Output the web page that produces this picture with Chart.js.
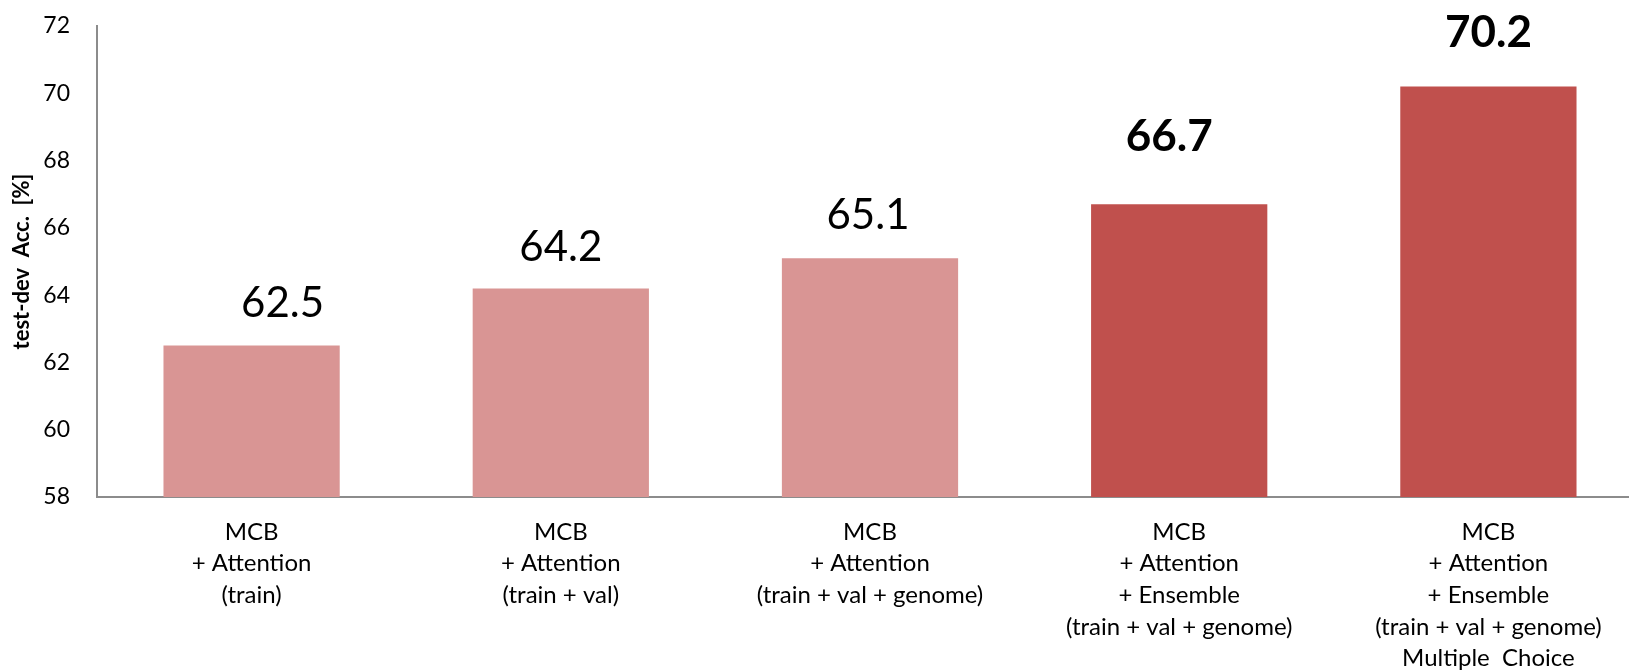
<!DOCTYPE html>
<html>
<head>
<meta charset="utf-8">
<script src="https://cdn.jsdelivr.net/npm/chart.js@4"></script>
<style>
  html, body { margin: 0; padding: 0; background: #ffffff; overflow: hidden; }
  #wrap { width: 1660px; height: 671px; }
</style>
</head>
<body>
<div id="wrap"><canvas id="chart" width="1660" height="671"></canvas></div>
<script>
// Model variants (multi-line category labels)
const categories = [
  ["MCB", "+ Attention", "(train)"],
  ["MCB", "+ Attention", "(train + val)"],
  ["MCB", "+ Attention", "(train + val + genome)"],
  ["MCB", "+ Attention", "+ Ensemble", "(train + val + genome)"],
  ["MCB", "+ Attention", "+ Ensemble", "(train + val + genome)", "Multiple  Choice"]
];
// test-dev accuracy in percent
const accuracy = [62.5, 64.2, 65.1, 66.7, 70.2];
// Ensemble results are highlighted
const highlighted = [false, false, false, true, true];
const yTicks = [58, 60, 62, 64, 66, 68, 70, 72];

// value label placement relative to each bar top, in pixels
const labelLift = [42, 41, 43, 67, 54];
const labelShift = [31, 0, -2, -10, 0];

const FONT = "Lato, 'Open Sans', sans-serif";

const valueLabels = {
  id: 'valueLabels',
  afterDatasetsDraw(chart) {
    const ctx = chart.ctx;
    const meta = chart.getDatasetMeta(0);
    const y = chart.scales.y;
    ctx.save();
    ctx.fillStyle = '#000000';
    ctx.textAlign = 'center';
    ctx.textBaseline = 'middle';
    meta.data.forEach((bar, i) => {
      ctx.font = (highlighted[i] ? 'bold 44px ' : '42px ') + FONT;
      const top = y.getPixelForValue(accuracy[i]);
      ctx.fillText(accuracy[i].toFixed(1), bar.x + labelShift[i], top - labelLift[i]);
    });
    ctx.restore();
  }
};

new Chart(document.getElementById('chart'), {
  type: 'bar',
  data: {
    labels: categories,
    datasets: [{
      data: accuracy,
      backgroundColor: highlighted.map(h => h ? '#C0504D' : '#D99594'),
      borderWidth: 0,
      barPercentage: 1.0,
      categoryPercentage: 0.57
    }]
  },
  options: {
    responsive: false,
    animation: false,
    events: [],
    layout: { padding: { top: 26, right: 17, left: 0, bottom: 0 } },
    plugins: { legend: { display: false }, tooltip: { enabled: false } },
    scales: {
      x: {
        grid: { display: false, drawTicks: false },
        border: { display: true, color: '#8c8c8c', width: 2 },
        ticks: {
          color: '#000000',
          font: { family: FONT, size: 24, lineHeight: 1.32 },
          padding: 19,
          maxRotation: 0,
          autoSkip: false
        },
        afterFit(scale) { scale.height = 174; }
      },
      y: {
        min: 58,
        max: 72,
        grid: { display: false, drawTicks: false },
        border: { display: true, color: '#8c8c8c', width: 2 },
        afterBuildTicks(scale) { scale.ticks = yTicks.map(v => ({ value: v })); },
        ticks: {
          color: '#000000',
          font: { family: FONT, size: 23 },
          padding: 27
        },
        title: {
          display: true,
          text: 'test-dev  Acc.  [%]',
          color: '#000000',
          font: { family: FONT, size: 22, weight: 'bold' },
          padding: { top: 9, bottom: 0 }
        },
        afterFit(scale) {
          scale.width = 97;
          scale.paddingTop = 0;
          scale.paddingBottom = 0;
        }
      }
    }
  },
  plugins: [valueLabels]
});
</script>
</body>
</html>
